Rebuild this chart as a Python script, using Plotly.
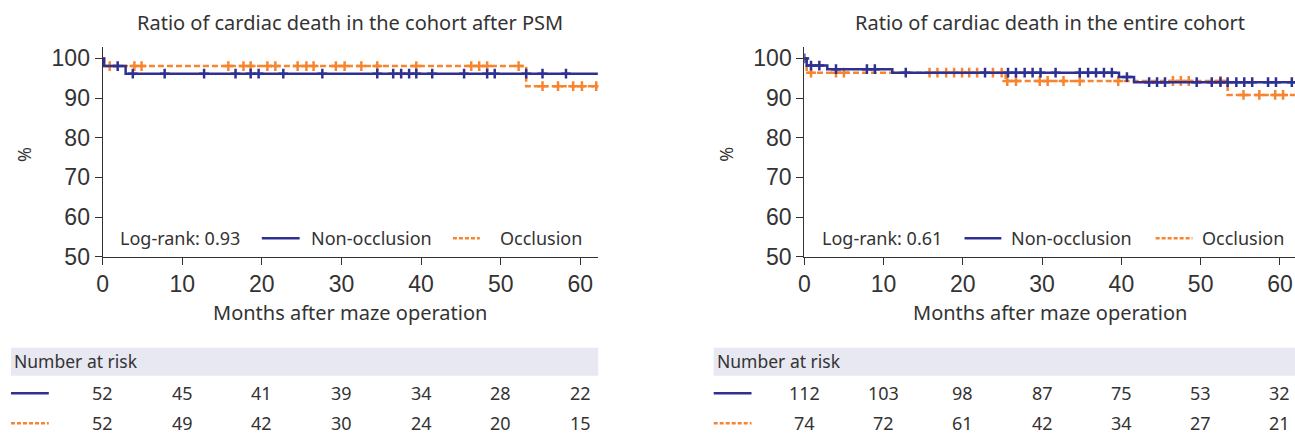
import plotly.graph_objects as go
import numpy as np

W, H = 1295, 446

# ---------------- data ----------------
x_ticks = [0, 10, 20, 30, 40, 50, 60]
y_ticks = [50, 60, 70, 80, 90, 100]

# PSM cohort (left)
psm_non_times = [0, 0.2, 2.9]
psm_non_surv = [100, 98.08, 96.15]
psm_non_end = 62.2
psm_non_cens = [1.9, 3.8, 7.8, 12.75, 16.7, 18.6, 19.6, 22.7, 27.6, 34.5, 36.5, 37.5,
                38.5, 39.4, 41.4, 45.4, 48.3, 49.25, 53.2, 55.25, 58.2]

psm_occ_times = [0, 0.2, 53.2]
psm_occ_surv = [100, 98.08, 93.0]
psm_occ_end = 62.5
psm_occ_cens = [0.9, 4.0, 4.9, 15.8, 17.7, 18.6, 20.7, 21.7, 24.5, 25.6, 26.5, 29.3,
                30.4, 32.5, 34.5, 39.4, 46.3, 47.3, 48.3, 52.25, 55.25, 57.2, 59.1,
                60.2, 62.0]

psm_risk_non = [52, 45, 41, 39, 34, 28, 22]
psm_risk_occ = [52, 49, 42, 30, 24, 20, 15]
psm_logrank = "Log-rank: 0.93"

# Entire cohort (right)
ent_non_times = [0, 0.3, 2.9, 11.1, 39.7, 41.6]
ent_non_surv = [100, 98.2, 97.3, 96.4, 95.3, 94.0]
ent_non_end = 62.0
ent_non_cens = [0, 0.85, 1.9, 4.0, 7.9, 8.9, 12.8, 22.8, 25.7, 26.7, 27.8, 28.8, 29.8,
                31.7, 34.75, 35.8, 36.8, 37.8, 38.8, 40.7, 43.5, 44.5, 45.5, 49.5,
                51.4, 52.5, 53.4, 54.5, 55.5, 56.5, 58.5, 59.5, 61.5]

ent_occ_times = [0, 0.3, 25.4, 53.4]
ent_occ_surv = [100, 96.4, 94.3, 90.8]
ent_occ_end = 62.0
ent_occ_cens = [0.85, 4.0, 5.0, 15.8, 16.8, 17.9, 18.9, 19.9, 20.8, 21.8, 23.8, 24.9,
                25.6, 26.7, 29.7, 30.7, 32.7, 34.75, 39.6, 46.5, 47.5, 48.5, 52.5,
                55.4, 57.4, 59.4, 60.4]

ent_risk_non = [112, 103, 98, 87, 75, 53, 32]
ent_risk_occ = [74, 72, 61, 42, 34, 27, 21]
ent_logrank = "Log-rank: 0.61"

titles = ["Ratio of cardiac death in the cohort after PSM",
          "Ratio of cardiac death in the entire cohort"]
x_title = "Months after maze operation"
y_title = "%"
series_names = ["Non-occlusion", "Occlusion"]
risk_label = "Number at risk"

# ---------------- styles ----------------
NAVY = "#2e3192"
ORANGE = "#f7852f"
TXT = "#333333"
BAND = "#e8e8f2"
FONT = "Noto Sans"
NUMFONT = "Liberation Sans"


def px(x):
    return x / W


def py(y):
    return 1 - y / H


def step_at(times, surv, t):
    idx = np.searchsorted(np.array(times), t, side="right") - 1
    return surv[max(idx, 0)]


fig = go.Figure()

panels = [
    dict(xa="x", ya="y", x0=97, x1=595, xr=62.25,
         non=(psm_non_times, psm_non_surv, psm_non_end, psm_non_cens),
         occ=(psm_occ_times, psm_occ_surv, psm_occ_end, psm_occ_cens),
         rn=psm_risk_non, ro=psm_risk_occ, lr=psm_logrank,
         band0=5, ylab=18,
         leg=dict(lr=113, nl0=257, nl1=295, nt=304, ol0=449, ol1=476, ot=494)),
    dict(xa="x2", ya="y2", x0=802, x1=1295, xr=61.9,
         non=(ent_non_times, ent_non_surv, ent_non_end, ent_non_cens),
         occ=(ent_occ_times, ent_occ_surv, ent_occ_end, ent_occ_cens),
         rn=ent_risk_non, ro=ent_risk_occ, lr=ent_logrank,
         band0=711, ylab=723,
         leg=dict(lr=818, nl0=963, nl1=1000, nt=1008, ol0=1155, ol1=1192, ot=1200)),
]

annotations = []
shapes = []

for i, p in enumerate(panels):
    for key, color, dash in [("occ", ORANGE, "6px,3px"), ("non", NAVY, "solid")]:
        times, surv, end, cens = p[key]
        xs = list(times) + [end]
        ys = list(surv) + [surv[-1]]
        fig.add_trace(go.Scatter(x=xs, y=ys, mode="lines", line_shape="hv",
                                 line=dict(color=color, width=2.5, dash=dash),
                                 xaxis=p["xa"], yaxis=p["ya"], showlegend=False,
                                 hoverinfo="skip"))
        cy = [step_at(times, surv, t) for t in cens]
        fig.add_trace(go.Scatter(x=cens, y=cy, mode="markers",
                                 marker=dict(symbol="cross-thin", size=7,
                                             line=dict(color=color, width=2.5)),
                                 xaxis=p["xa"], yaxis=p["ya"], showlegend=False,
                                 hoverinfo="skip"))
    xmid = (p["x0"] + p["x1"]) / 2
    annotations.append(dict(text=titles[i], x=px(xmid), y=py(22), xref="paper", yref="paper",
                            showarrow=False, xanchor="center", yanchor="middle",
                            font=dict(family=FONT, size=20, color=TXT)))
    annotations.append(dict(text=x_title, x=px(xmid), y=py(322), xref="paper", yref="paper",
                            showarrow=False, xanchor="center", yanchor="middle",
                            font=dict(family=FONT, size=20, color=TXT)))
    annotations.append(dict(text=y_title, x=px(p["ylab"]), y=py(158), xref="paper", yref="paper",
                            showarrow=False, xanchor="center", yanchor="middle", textangle=-90,
                            font=dict(family=FONT, size=18, color=TXT)))
    lg = p["leg"]
    for txt, xx in [(p["lr"], lg["lr"]), (series_names[0], lg["nt"]), (series_names[1], lg["ot"])]:
        annotations.append(dict(text=txt, x=px(xx), y=py(245), xref="paper", yref="paper",
                                showarrow=False, xanchor="left", yanchor="middle",
                                font=dict(family=FONT, size=18, color=TXT)))
    shapes.append(dict(type="line", xref="paper", yref="paper", x0=px(lg["nl0"]), x1=px(lg["nl1"]),
                       y0=py(245), y1=py(245), line=dict(color=NAVY, width=2.5)))
    shapes.append(dict(type="line", xref="paper", yref="paper", x0=px(lg["ol0"]), x1=px(lg["ol1"]),
                       y0=py(245), y1=py(245), line=dict(color=ORANGE, width=2.5, dash="4px,2px")))
    shapes.append(dict(type="rect", xref="paper", yref="paper", x0=px(p["band0"]), x1=px(p["x1"]),
                       y0=py(387), y1=py(358), line=dict(width=0), fillcolor=BAND, layer="below"))
    annotations.append(dict(text=risk_label, x=px(p["band0"] + 1), y=py(372), xref="paper",
                            yref="paper", showarrow=False, xanchor="left", yanchor="middle",
                            font=dict(family=FONT, size=17.5, color=TXT)))
    shapes.append(dict(type="line", xref="paper", yref="paper", x0=px(p["band0"]),
                       x1=px(p["band0"] + 38), y0=py(405), y1=py(405),
                       line=dict(color=NAVY, width=2.5)))
    shapes.append(dict(type="line", xref="paper", yref="paper", x0=px(p["band0"]),
                       x1=px(p["band0"] + 38), y0=py(436), y1=py(436),
                       line=dict(color=ORANGE, width=2.5, dash="4px,2px")))
    for t, a, b in zip(x_ticks, p["rn"], p["ro"]):
        annotations.append(dict(text=str(a), x=t, y=py(405), xref=p["xa"], yref="paper",
                                showarrow=False, xanchor="center", yanchor="middle",
                                font=dict(family=FONT, size=18, color=TXT)))
        annotations.append(dict(text=str(b), x=t, y=py(436), xref=p["xa"], yref="paper",
                                showarrow=False, xanchor="center", yanchor="middle",
                                font=dict(family=FONT, size=18, color=TXT)))

axis_common = dict(showline=True, linecolor=TXT, linewidth=1, ticks="outside", ticklen=7,
                   tickcolor=TXT, tickwidth=1, showgrid=False, zeroline=False,
                   tickfont=dict(family=NUMFONT, size=23, color=TXT))

fig.update_layout(
    autosize=True, margin=dict(l=0, r=0, t=0, b=0),
    paper_bgcolor="white", plot_bgcolor="white",
    xaxis=dict(domain=[px(97), px(595)], range=[0, 62.25], tickvals=x_ticks,
               anchor="y", **axis_common),
    yaxis=dict(domain=[py(264), py(47)], range=[50, 103], tickvals=y_ticks,
               anchor="x", **axis_common),
    xaxis2=dict(domain=[px(802), px(1295)], range=[0, 61.9], tickvals=x_ticks,
                anchor="y2", **axis_common),
    yaxis2=dict(domain=[py(264), py(47)], range=[50, 103], tickvals=y_ticks,
                anchor="x2", **axis_common),
    annotations=annotations, shapes=shapes,
)

fig.write_html("out.html", default_width="100vw", default_height="100vh",
               config={"displayModeBar": False, "responsive": True},
               post_script="document.body.style.margin='0';document.body.style.overflow='hidden';")
